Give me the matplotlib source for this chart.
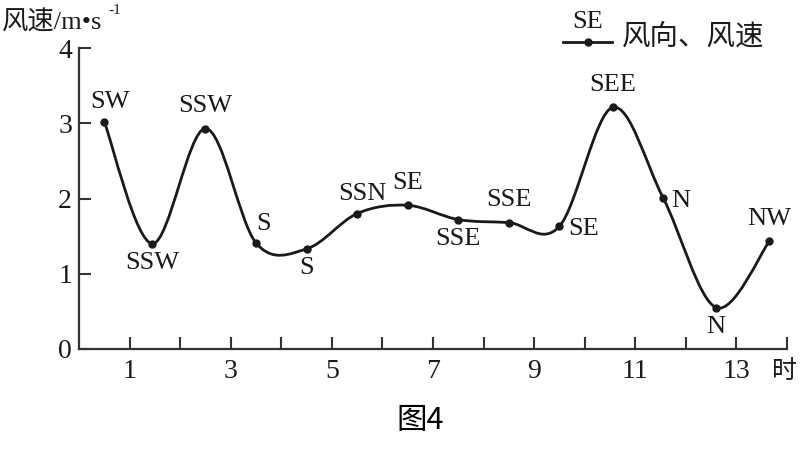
import matplotlib
matplotlib.use('Agg')
import matplotlib.pyplot as plt
from matplotlib.path import Path
from matplotlib.patches import PathPatch
from matplotlib.lines import Line2D
import numpy as np

# hour of the observation, wind speed (m/s) and wind direction
hours = [0.5, 1.45, 2.5, 3.5, 4.5, 5.5, 6.5, 7.5, 8.5, 9.5, 10.55, 11.55, 12.6, 13.65]
speeds = [3.02, 1.40, 2.93, 1.41, 1.33, 1.80, 1.91, 1.72, 1.68, 1.63, 3.21, 2.01, 0.55, 1.43]
directions = ['SW', 'SSW', 'SSW', 'S', 'S', 'SSN', 'SE', 'SSE', 'SSE', 'SE', 'SEE', 'N', 'N', 'NW']
# where the direction text sits next to its point
label_side = ['al', 'b', 'a', 'ar', 'b', 'al', 'a', 'b', 'a', 'r', 'a', 'r', 'b', 'a']

x_ticks = list(range(1, 15))
x_ticklabels = ['1', '', '3', '', '5', '', '7', '', '9', '', '11', '', '13', '']
y_ticks = [0, 1, 2, 3, 4]

SERIF = ['Liberation Serif', 'Noto Sans CJK SC']
CJK = ['Noto Sans CJK SC', 'DejaVu Sans']
INK = '#1a1a1a'
AXIS = '#333333'


def smooth_path(xs, ys):
    '''Catmull-Rom style bezier path through the points.'''
    pts = np.column_stack([xs, ys])
    verts = [pts[0]]
    codes = [Path.MOVETO]
    n = len(pts)
    for i in range(n - 1):
        p0 = pts[i - 1] if i > 0 else pts[i]
        p1 = pts[i]
        p2 = pts[i + 1]
        p3 = pts[i + 2] if i + 2 < n else pts[i + 1]
        verts += [p1 + (p2 - p0) / 6.0, p2 - (p3 - p1) / 6.0, p2]
        codes += [Path.CURVE4] * 3
    return Path(verts, codes)


fig = plt.figure(figsize=(8, 4.5), dpi=100)
ax = fig.add_axes([79 / 800, 1 - 349 / 450, (787 - 79) / 800, (349 - 48) / 450])
ax.set_xlim(0, 14)
ax.set_ylim(0, 4)

# curve and points
ax.add_patch(PathPatch(smooth_path(hours, speeds), fill=False, edgecolor=INK, lw=2.0))
ax.plot(hours, speeds, 'o', color=INK, markersize=5, clip_on=False, zorder=3)

offsets = {'a': (0, 8, 'center', 'bottom'),
           'b': (0, -6, 'center', 'top'),
           'al': (4, 6, 'center', 'bottom'),
           'ar': (0, 6, 'left', 'bottom'),
           'r': (6, -2, 'left', 'center')}
for x, y, d, side in zip(hours, speeds, directions, label_side):
    dx, dy, ha, va = offsets[side]
    ax.annotate(d, (x, y), xytext=(dx, dy), textcoords='offset points',
                ha=ha, va=va, fontsize=19, family=SERIF, color=INK)

# axes styling
for s in ['top', 'right']:
    ax.spines[s].set_visible(False)
for s in ['left', 'bottom']:
    ax.spines[s].set_linewidth(1.6)
    ax.spines[s].set_color(AXIS)
ax.set_xticks(x_ticks)
ax.set_xticklabels(x_ticklabels)
ax.set_yticks(y_ticks)
ax.tick_params(direction='in', length=8.5, width=1.5, color=AXIS,
               labelsize=20, labelcolor=INK)
ax.tick_params(axis='x', pad=7)
ax.tick_params(axis='y', pad=5)
for lab in ax.get_xticklabels() + ax.get_yticklabels():
    lab.set_family(SERIF)

ax.text(13.7, -0.29, '时', ha='left', va='center', fontsize=18, family=CJK,
        color=INK, clip_on=False)

# y axis title
fig.text(0.002, 1 - 30 / 450, '风速/m•s', ha='left', va='baseline', fontsize=19,
         family=SERIF, color=INK)
fig.text(108 / 800, 1 - 4 / 450, '-1', ha='left', va='top', fontsize=11,
         family=SERIF, color=INK)

# legend
fig.add_artist(Line2D([563 / 800, 612 / 800], [1 - 42 / 450] * 2, color=INK, lw=2.0))
fig.add_artist(Line2D([588 / 800], [1 - 42 / 450], marker='o', color=INK, markersize=5))
fig.text(588 / 800, 1 - 33 / 450, 'SE', ha='center', va='bottom', fontsize=19,
         family=SERIF, color=INK)
fig.text(622 / 800, 1 - 38 / 450, '风向、风速', ha='left', va='center', fontsize=20.5,
         family=CJK, color=INK)

# caption
fig.text(0.525, 0.065, '图4', ha='center', va='center', fontsize=22, family=CJK, color='black')

fig.savefig('out.png', dpi=100)
